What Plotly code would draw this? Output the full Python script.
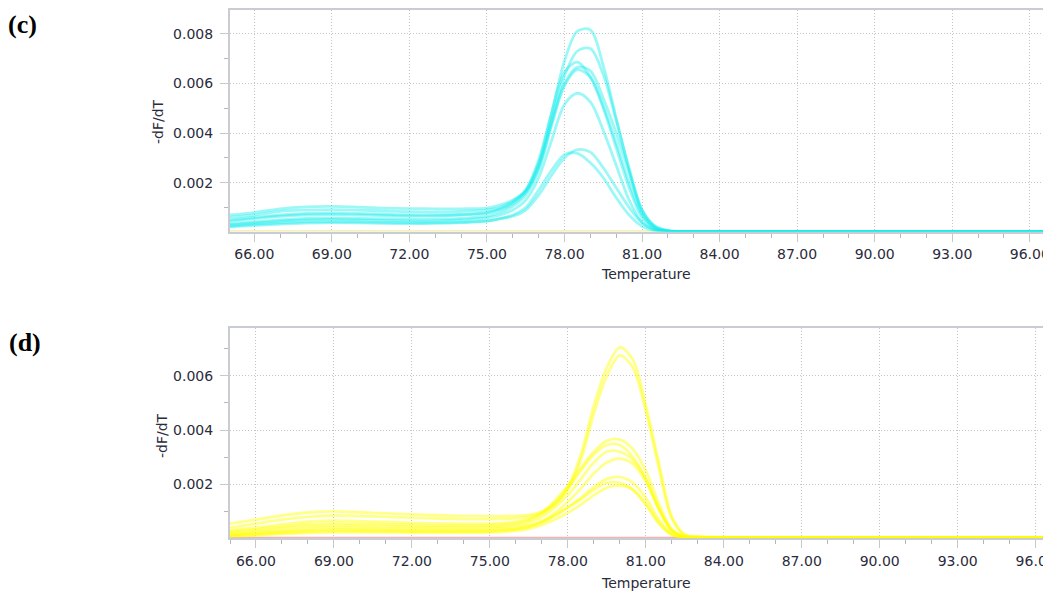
import plotly.graph_objects as go

# Temperature grid shared by all melt curves
temps = [65, 66, 67, 68, 69, 70, 71, 72, 73, 74, 75, 75.5, 76, 76.5, 77, 77.5, 78, 78.5,
         79, 79.5, 80, 80.5, 81, 81.5, 82, 82.5, 83, 85, 90, 97]

# Panel (c) curves, -dF/dT in units of 1e-4
c1 = [7.0, 8.0, 9.5, 10.3, 10.5, 10.2, 9.8, 9.6, 9.5, 9.5, 9.8, 11, 13, 17, 28, 48, 69, 81, 81.5, 67, 46, 25, 8, 2, 0.6, 0.4, 0.4, 0.4, 0.4, 0.4]
c2 = [6.0, 7.0, 8.5, 9.0, 9.2, 9.0, 8.6, 8.3, 8.2, 8.4, 9.0, 10, 12.5, 16.5, 27, 45, 63, 73, 74, 63.5, 45, 26, 9, 2.5, 0.7, 0.4, 0.4, 0.4, 0.4, 0.4]
c3 = [5.0, 6.0, 7.0, 7.6, 7.8, 7.6, 7.3, 7.0, 7.0, 7.2, 8.0, 9.5, 12, 17, 29, 48, 64.5, 68.5, 62.5, 50, 34, 18, 6, 1.5, 0.5, 0.4, 0.4, 0.4, 0.4, 0.4]
c4 = [4.5, 5.5, 6.5, 7.0, 7.2, 7.0, 6.8, 6.6, 6.6, 7.0, 7.8, 9, 11.5, 16, 26, 44, 60, 66.5, 65, 54, 40, 24, 9, 2.5, 0.6, 0.4, 0.4, 0.4, 0.4, 0.4]
c5 = [3.5, 4.2, 5.0, 5.6, 5.8, 5.6, 5.5, 5.3, 5.3, 5.6, 6.5, 8, 10.5, 15, 25, 43, 59, 65.5, 62.5, 51, 36, 20, 7, 1.8, 0.5, 0.4, 0.4, 0.4, 0.4, 0.4]
c6 = [3.0, 3.8, 4.5, 5.0, 5.2, 5.0, 4.8, 4.6, 4.6, 5.0, 5.8, 7, 9, 13, 22, 37, 51.5, 56, 52.5, 41, 27, 13, 4, 1, 0.5, 0.4, 0.4, 0.4, 0.4, 0.4]
c7 = [2.5, 3.2, 3.8, 4.2, 4.3, 4.2, 4.0, 3.9, 3.9, 4.1, 4.6, 5.5, 6.5, 9, 15, 23, 30, 33.3, 32.3, 26, 18, 10, 4, 1, 0.4, 0.4, 0.4, 0.4, 0.4, 0.4]
c8 = [2.2, 2.8, 3.3, 3.7, 3.9, 3.8, 3.6, 3.5, 3.6, 3.9, 4.5, 5.5, 7, 10, 17, 25, 31.3, 31.8, 28, 22, 14, 7, 2.5, 0.6, 0.4, 0.4, 0.4, 0.4, 0.4, 0.4]

# Panel (d) curves, -dF/dT in units of 1e-4
d1 = [5.5, 7.0, 8.5, 9.6, 10.0, 9.7, 9.3, 8.9, 8.6, 8.4, 8.3, 8.3, 8.4, 8.7, 10, 13, 19, 31, 49, 63, 70.5, 66, 49, 28, 8, 1.5, 0.5, 0.4, 0.4, 0.4]
d2 = [4.0, 5.5, 7.0, 8.0, 8.5, 8.3, 8.0, 7.7, 7.4, 7.2, 7.2, 7.3, 7.5, 8.0, 9.5, 12.5, 18, 29, 46, 60, 67.5, 63, 47, 26, 7.5, 1.2, 0.5, 0.4, 0.4, 0.4]
d3 = [3.0, 4.0, 5.2, 6.2, 6.6, 6.4, 6.1, 5.8, 5.6, 5.5, 5.5, 5.7, 6.2, 7.2, 9.5, 14, 19.5, 26, 32, 36, 36.5, 33, 25, 13, 3.5, 0.8, 0.5, 0.4, 0.4, 0.4]
d4 = [2.6, 3.4, 4.4, 5.2, 5.6, 5.4, 5.2, 5.0, 4.8, 4.8, 4.9, 5.1, 5.6, 6.8, 9, 13, 18.5, 25, 31, 34.5, 34.5, 30, 22, 11, 3, 0.7, 0.5, 0.4, 0.4, 0.4]
d5 = [2.0, 2.8, 3.8, 4.5, 4.8, 4.7, 4.5, 4.3, 4.2, 4.2, 4.3, 4.5, 5.0, 6.0, 8, 11.5, 16, 22, 28, 32, 32, 29, 22, 11, 3, 0.7, 0.5, 0.4, 0.4, 0.4]
d6 = [1.6, 2.2, 3.0, 3.7, 4.0, 3.9, 3.7, 3.6, 3.5, 3.5, 3.6, 3.8, 4.2, 5.0, 6.5, 9.5, 13.5, 18.5, 24, 28, 29.5, 27.5, 21, 11, 3, 0.7, 0.5, 0.4, 0.4, 0.4]
d7 = [1.3, 1.8, 2.5, 3.0, 3.3, 3.2, 3.1, 3.0, 2.9, 2.9, 3.0, 3.2, 3.6, 4.4, 6, 8.5, 11.5, 15, 19, 22, 22.7, 20.5, 15, 7, 1.8, 0.5, 0.5, 0.4, 0.4, 0.4]
d8 = [1.0, 1.5, 2.1, 2.6, 2.8, 2.8, 2.7, 2.6, 2.6, 2.6, 2.7, 2.9, 3.4, 4.3, 6, 8.5, 11.5, 14.5, 18, 20.5, 20.5, 18, 12.5, 5.5, 1.3, 0.5, 0.5, 0.4, 0.4, 0.4]
d9 = [0.8, 1.2, 1.7, 2.1, 2.3, 2.3, 2.3, 2.2, 2.2, 2.2, 2.3, 2.5, 2.9, 3.6, 5, 7, 9.5, 12.5, 16, 18.8, 19.6, 18, 13, 6, 1.5, 0.5, 0.5, 0.4, 0.4, 0.4]

baseline_c = [0.5] * len(temps)   # pale yellow flat trace in (c)
baseline_d = [0.3] * len(temps)   # pink flat trace in (d)

UNIT = 1e-4
curves_c = [c1, c2, c3, c4, c5, c6, c7, c8]
curves_d = [d1, d2, d3, d4, d5, d6, d7, d8, d9]

# page body has an 8px margin; the figure is sized to fill the rest of the window
OFF = 8
W, H = 1051 - OFF, 594 - OFF

def px(x):
    return (x - OFF) / W

def py(y):
    return 1 - (y - OFF) / H

fig = go.Figure()

def add(vals, color, width, xa, ya):
    fig.add_trace(go.Scatter(
        x=temps, y=[v * UNIT for v in vals], mode="lines",
        line=dict(color=color, width=width, shape="spline", smoothing=0.9),
        xaxis=xa, yaxis=ya, showlegend=False, hoverinfo="skip"))

add(baseline_c, "rgba(240,235,150,0.9)", 2, "x", "y")
for c in curves_c:
    add(c, "rgba(20,236,236,0.42)", 2.8, "x", "y")
add(baseline_d, "rgba(245,170,170,0.9)", 2, "x2", "y2")
for d in curves_d:
    add(d, "rgba(255,255,0,0.45)", 2.8, "x2", "y2")

tickfont = dict(family="DejaVu Sans", size=14, color="#2b2b3b")
grid = dict(showgrid=True, gridcolor="#c4c4c4", griddash="1px,2px", gridwidth=1, zeroline=False,
            showline=True, linecolor="#c9cdd3", linewidth=2, tickfont=tickfont, automargin=False,
            ticks="outside", ticklen=8, tickcolor="#c8c8c8", tickwidth=1, ticklabeloverflow="allow")

def xax(rng, dom):
    return dict(grid, range=rng, domain=dom, tick0=66, dtick=3, tickformat=".2f", mirror=True,
                ticklabelstandoff=1,
                minor=dict(dtick=1, tick0=66, ticks="outside", ticklen=4, tickcolor="#b4b8bd", showgrid=False))

def yax(rng, dom):
    return dict(grid, range=rng, domain=dom, tick0=0, dtick=0.002, tickformat=".3f",
                ticklabelstandoff=4,
                minor=dict(dtick=0.001, tick0=0, ticks="outside", ticklen=4, tickcolor="#b4b8bd", showgrid=False))

fig.update_layout(
    width=W, height=H, autosize=False,
    margin=dict(l=0, r=0, t=0, b=0),
    paper_bgcolor="white", plot_bgcolor="white",
    xaxis=xax([65.06, 96.82], [px(230), 1]),
    yaxis=yax([0.000036, 0.00895], [py(231.5), py(10)]),
    xaxis2=xax([65.0, 96.59], [px(230), 1]),
    yaxis2=yax([0.00001, 0.00775], [py(538.3), py(328.3)]),
)
fig.update_layout(xaxis2=dict(anchor="y2"), yaxis2=dict(anchor="x2"))

ann_font = dict(family="DejaVu Sans", size=14, color="#2b2b3b")
label_font = dict(family="Liberation Serif", size=26, color="black")
annotations = [
    dict(text="<b>(c)</b>", x=px(22), y=py(25), font=label_font),
    dict(text="<b>(d)</b>", x=px(25), y=py(342), font=label_font),
    dict(text="Temperature", x=px(646), y=py(274), font=ann_font),
    dict(text="Temperature", x=px(646), y=py(583), font=ann_font),
    dict(text="-dF/dT", x=px(158), y=py(122), font=ann_font, textangle=-90),
    dict(text="-dF/dT", x=px(162), y=py(436), font=ann_font, textangle=-90),
]
for a in annotations:
    fig.add_annotation(xref="paper", yref="paper", xanchor="center", yanchor="middle",
                       showarrow=False, **a)

fig.write_html("out.html")
